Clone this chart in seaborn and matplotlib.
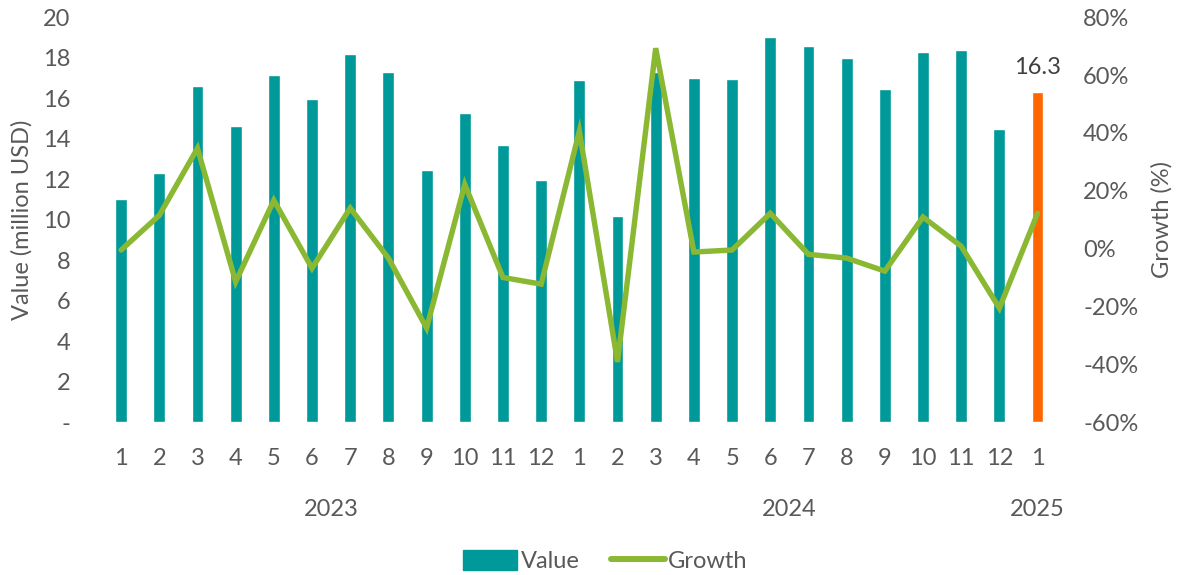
import matplotlib
matplotlib.use("Agg")
import matplotlib.pyplot as plt
import matplotlib.transforms as mtransforms
from matplotlib.patches import Patch
from matplotlib.lines import Line2D
import seaborn as sns
import pandas as pd
import numpy as np

months = ["1","2","3","4","5","6","7","8","9","10","11","12",
          "1","2","3","4","5","6","7","8","9","10","11","12","1"]
years = ["2023", "2024", "2025"]
values = [11.0, 12.3, 16.6, 14.65, 17.15, 15.95, 18.2, 17.3, 12.45, 15.25, 13.7, 11.95,
          16.9, 10.2, 17.3, 17.0, 16.95, 19.0, 18.6, 18.0, 16.45, 18.27, 18.4, 14.5, 16.3]
growth = [-0.5, 11.5, 34.7, -11.5, 16.7, -6.8, 14.0, -3.3, -27.5, 22.2, -10.0, -12.3,
          40.6, -39.2, 69.3, -1.2, -0.5, 12.2, -2.0, -3.3, -7.8, 10.9, 0.8, -20.6, 12.2]
highlight_label = "16.3"

TEAL = "#009999"
GREEN = "#8AB833"
ORANGE = "#FF6600"
GREY = "#595959"
FS = 17

sns.set_theme(style="white")
plt.rcParams['font.family'] = ['Lato', 'DejaVu Sans']

n = len(values)
df = pd.DataFrame({
    "idx": np.arange(n),
    "value": values,
    "growth": growth,
    "kind": ["normal"] * (n - 1) + ["latest"],
})

fig = plt.figure(figsize=(11.78, 5.75), dpi=100)
ax = fig.add_axes([0.0866, 0.266, 0.8104, 0.704])

sns.barplot(data=df, x="idx", y="value", hue="kind",
            palette={"normal": TEAL, "latest": ORANGE},
            width=0.31, dodge=False, legend=False, ax=ax, saturation=1)
ax.set_ylim(0, 20)
ax.set_xlim(-0.5, n - 0.5)
ax.set_yticks(range(0, 21, 2))
ax.set_yticklabels(["-"] + [str(v) for v in range(2, 21, 2)])
ax.set_xticks(range(n))
ax.set_xticklabels(months)
ax.set_xlabel("")
ax.set_ylabel("Value (million USD)", fontsize=FS, color=GREY)
ax.yaxis.set_label_coords(-0.073, 0.5)
ax.tick_params(axis="both", labelsize=FS, colors=GREY, length=0)
ax.tick_params(axis="x", pad=19)
ax.tick_params(axis="y", pad=23)
for s in ax.spines.values():
    s.set_visible(False)

ax.text(n - 1, values[-1] + 0.7, highlight_label, ha="center", va="bottom",
        fontsize=FS, color="#404040")

ax2 = ax.twinx()
sns.lineplot(data=df, x="idx", y="growth", color=GREEN, linewidth=3.9, ax=ax2,
             solid_joinstyle="miter")
ax2.set_ylim(-60, 80)
ax2.set_yticks(range(-60, 81, 20))
ax2.set_yticklabels([f"{v}%" for v in range(-60, 81, 20)])
ax2.set_ylabel("Growth (%)", fontsize=FS, color=GREY)
ax2.yaxis.set_label_coords(1.099, 0.5)
ax2.tick_params(axis="y", labelsize=FS, colors=GREY, length=0, pad=19)
ax2.set_xlabel("")
for s in ax2.spines.values():
    s.set_visible(False)

trans = mtransforms.blended_transform_factory(ax.transData, fig.transFigure)
year_pos = [5.5, 17.5, 24]
for yp, yl in zip(year_pos, years):
    ax.text(yp, 1 - 509 / 575, yl, transform=trans, ha="center", va="center",
            fontsize=FS, color=GREY)

handles = [Patch(facecolor=TEAL, edgecolor=TEAL),
           Line2D([0], [0], color=GREEN, linewidth=4.3)]
fig.legend(handles, ["Value", "Growth"], loc="center", bbox_to_anchor=(0.514, 1 - 561 / 575),
           ncol=2, frameon=False, fontsize=FS, labelcolor=GREY,
           handlelength=2.3, handleheight=0.9, handletextpad=0.15, columnspacing=1.3)

fig.savefig("out.png", dpi=100)
